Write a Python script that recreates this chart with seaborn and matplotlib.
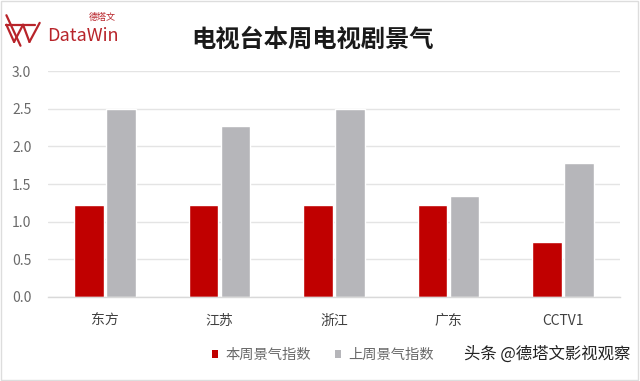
import matplotlib
matplotlib.use("Agg")
import matplotlib.pyplot as plt
import seaborn as sns
import pandas as pd
from matplotlib.patches import Patch, Rectangle
from matplotlib.lines import Line2D

categories = ["东方", "江苏", "浙江", "广东", "CCTV1"]
series_names = ["本周景气指数", "上周景气指数"]
this_week = [1.22, 1.22, 1.22, 1.22, 0.73]
last_week = [2.50, 2.27, 2.50, 1.345, 1.78]
yticks = [0.0, 0.5, 1.0, 1.5, 2.0, 2.5, 3.0]

colors = ["#C00000", "#B6B6BA"]

sns.set_theme(style="white")
plt.rcParams['font.family'] = ['Noto Sans CJK SC', 'DejaVu Sans']

df = pd.DataFrame({
    "cat": categories * 2,
    "series": [series_names[0]] * len(categories) + [series_names[1]] * len(categories),
    "value": this_week + last_week,
})

fig = plt.figure(figsize=(6.4, 3.81), dpi=100)
ax = fig.add_axes([0.075, 0.2205, 0.894, 0.5931])

sns.barplot(data=df, x="cat", y="value", hue="series", order=categories,
            hue_order=series_names, palette=colors, width=0.56, gap=0.08,
            saturation=1, ax=ax, legend=False, errorbar=None)

ax.set_ylim(0, 3.0)
ax.set_xlim(-0.5, len(categories) - 0.5)
ax.set_yticks(yticks)
ax.set_yticklabels([f"{v:.1f}" for v in yticks], color="#6A6A6A", fontsize=10)
ax.tick_params(axis="y", length=0, pad=12)
ax.set_xlabel("")
ax.set_ylabel("")
ax.set_xticks(range(len(categories)))
ax.set_xticklabels(categories, color="#404040", fontsize=10)
ax.set_xticks([i - 0.5 for i in range(len(categories) + 1)], minor=True)
ax.tick_params(axis="x", which="major", length=0, pad=12)
ax.tick_params(axis="x", which="minor", length=4, color="#D9D9D9", width=0.8)
ax.grid(axis="y", color="#E4E4E4", linewidth=1)
ax.set_axisbelow(True)
for s in ["top", "right", "left"]:
    ax.spines[s].set_visible(False)
ax.spines["bottom"].set_color("#D9D9D9")
ax.spines["bottom"].set_linewidth(1)

handles = [Patch(facecolor=colors[0], edgecolor="none"),
           Patch(facecolor=colors[1], edgecolor="none")]
fig.legend(handles, series_names, loc="center", bbox_to_anchor=(0.505, 0.068),
           ncol=2, frameon=False, fontsize=10.3, handlelength=0.42, handleheight=0.42,
           handletextpad=0.5, columnspacing=1.7, labelcolor="#6A6A6A")

fig.text(0.489, 0.895, "电视台本周电视剧景气", ha="center", va="center",
         fontsize=17.5, fontweight="bold", color="#1a1a1a")

# logo
logo_c = "#B8242A"
fig.text(0.073, 0.905, "DataWin", ha="left", va="center", fontsize=13, color=logo_c)
fig.text(0.138, 0.955, "德塔文", ha="left", va="center", fontsize=6.5, color=logo_c)
for xs, ys in [([0.010, 0.022], [0.935, 0.89]), ([0.010, 0.055], [0.935, 0.935]),
               ([0.022, 0.036], [0.89, 0.935]), ([0.036, 0.046], [0.935, 0.89]),
               ([0.046, 0.062], [0.89, 0.94]), ([0.010, 0.032], [0.96, 0.88])]:
    fig.add_artist(Line2D(xs, ys, transform=fig.transFigure, color=logo_c, linewidth=1.6))

fig.text(0.985, 0.07, "头条 @德塔文影视观察", ha="right", va="center",
         fontsize=11.8, color="#222222")

fig.add_artist(Rectangle((0.0015, 0.0015), 0.995, 0.995, transform=fig.transFigure,
                         fill=False, edgecolor="#DDDDDD", linewidth=1))

fig.savefig("out.png", dpi=100, facecolor="white")
